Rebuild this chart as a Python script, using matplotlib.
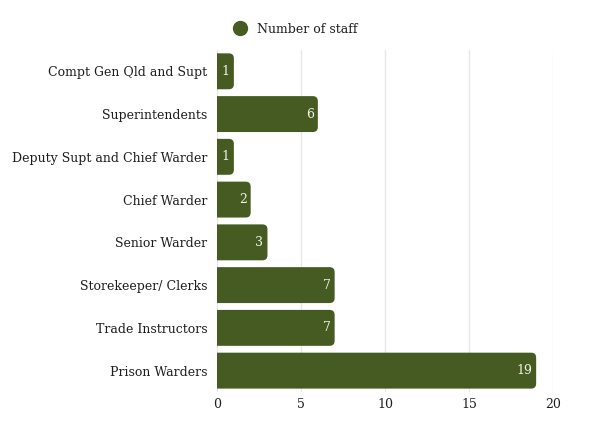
import matplotlib.pyplot as plt
from matplotlib.patches import FancyBboxPatch
from matplotlib.lines import Line2D

categories = [
    "Prison Warders",
    "Trade Instructors",
    "Storekeeper/ Clerks",
    "Senior Warder",
    "Chief Warder",
    "Deputy Supt and Chief Warder",
    "Superintendents",
    "Compt Gen Qld and Supt",
]
staff = [19, 7, 7, 3, 2, 1, 6, 1]
x_ticks = [0, 5, 10, 15, 20]

BAR_COLOR = "#465b21"
TEXT_COLOR = "#1e1e1e"
FONT = "DejaVu Serif"

plt.rcParams["font.family"] = FONT

fig = plt.figure(figsize=(6.03, 4.38), dpi=100)
ax = fig.add_axes([0.36, 0.105, 0.557, 0.781])

ax.set_xlim(0, 20)
ax.set_ylim(-0.5, len(categories) - 0.5)

# px per data unit, used to keep the corners round
x_px = ax.get_position().width * 603 / 20
y_px = ax.get_position().height * 438 / len(categories)
aspect = x_px / y_px
radius = 5 / x_px
bar_h = 0.84

for i, v in enumerate(staff):
    # start left of zero so the axes clip off the left rounding
    box = FancyBboxPatch(
        (-1, i - bar_h / 2), v + 1, bar_h,
        boxstyle=f"round,pad=0,rounding_size={radius}",
        mutation_aspect=aspect,
        fc=BAR_COLOR, ec="none", zorder=3,
    )
    ax.add_patch(box)
    ax.text(v - 4 / x_px, i, str(v), ha="right", va="center",
            color="#f2f2e6", fontsize=9, zorder=4)

ax.set_yticks(range(len(categories)))
ax.set_yticklabels(categories, fontsize=9, color=TEXT_COLOR)
ax.set_xticks(x_ticks)
ax.set_xticklabels([str(t) for t in x_ticks], fontsize=9, color=TEXT_COLOR)
ax.tick_params(length=0, pad=4)
ax.tick_params(axis="y", pad=7)

ax.grid(axis="x", color="#e6e6e6", linewidth=0.9, zorder=0)
for s in ax.spines.values():
    s.set_visible(False)

handle = Line2D([], [], marker="o", linestyle="none", markersize=10,
                markerfacecolor=BAR_COLOR, markeredgecolor=BAR_COLOR)
fig.legend([handle], ["Number of staff"], loc="center",
           bbox_to_anchor=(0.485, 0.933), frameon=False, fontsize=9,
           handletextpad=0.3, labelcolor=TEXT_COLOR)

fig.savefig("out.png", dpi=100, facecolor="white")
